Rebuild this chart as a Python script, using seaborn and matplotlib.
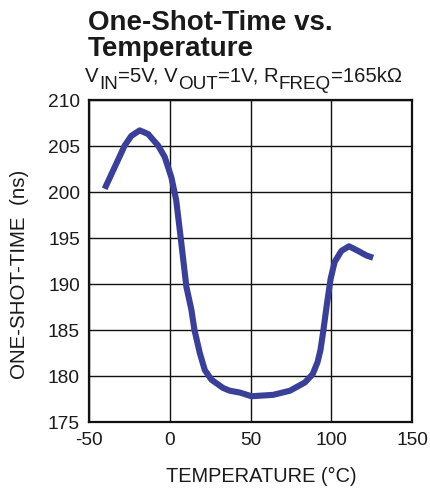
import matplotlib
matplotlib.use("Agg")
import matplotlib.pyplot as plt
import seaborn as sns
import pandas as pd

temperature = [-40.3, -34.1, -27.9, -23.8, -18.6, -13.4, -7.2, -3.1, 1.0, 4.0, 6.8,
               10.3, 13.4, 15.3, 18.6, 21.7, 25.8, 33.0, 37.2, 43.4, 50.6, 64.0,
               74.4, 83.7, 88.5, 91.5, 93.3, 95.0, 97.3, 99.6, 102.1, 106.3,
               111.0, 116.6, 121.8, 125.9]
one_shot_ns = [200.35, 202.7, 205.05, 206.1, 206.7, 206.3, 205.05, 203.8, 201.6, 199.1, 195.0,
               189.7, 187.2, 185.0, 182.5, 180.65, 179.6, 178.7, 178.4, 178.2, 177.8, 177.95,
               178.4, 179.3, 180.2, 181.5, 182.8, 184.8, 187.8, 190.55, 192.4, 193.6,
               194.1, 193.6, 193.1, 192.85]

x_ticks = [-50, 0, 50, 100, 150]
y_ticks = [175, 180, 185, 190, 195, 200, 205, 210]
x_tick_labels = ["-50", "0", "50", "100", "150"]
y_tick_labels = ["175", "180", "185", "190", "195", "200", "205", "210"]

df = pd.DataFrame({"T": temperature, "t": one_shot_ns})

sns.set_style("white")
plt.rcParams["font.family"] = ["Liberation Sans", "DejaVu Sans"]
plt.rcParams["axes.unicode_minus"] = False

TXT = "#1a1a1a"
fig = plt.figure(figsize=(4.30, 4.88), dpi=100)
ax = fig.add_axes([89/430, 1-422/488, (412-89)/430, (422-100)/488])

sns.lineplot(data=df, x="T", y="t", ax=ax, color="#3a3f98", linewidth=4.4,
             solid_capstyle="butt", solid_joinstyle="round", estimator=None, sort=False)

ax.set_xlim(-50, 150)
ax.set_ylim(175, 210)
ax.set_xticks(x_ticks)
ax.set_xticklabels(x_tick_labels)
ax.set_yticks(y_ticks)
ax.set_yticklabels(y_tick_labels)
ax.grid(True, color="#111111", linewidth=1.0)
ax.set_axisbelow(True)
for s in ax.spines.values():
    s.set_visible(True)
    s.set_color("#111111")
    s.set_linewidth(1.6)
ax.tick_params(axis="both", length=0, labelsize=13.8, colors=TXT)
ax.tick_params(axis="x", pad=7)
ax.tick_params(axis="y", pad=6.5)
ax.set_xlabel("")
ax.set_ylabel("")

fig.text(88/430, 1-30/488, "One-Shot-Time vs.", fontsize=20, fontweight="bold",
         color=TXT, va="baseline", ha="left")
fig.text(88/430, 1-56/488, "Temperature", fontsize=20, fontweight="bold",
         color=TXT, va="baseline", ha="left")

# subtitle with near full-size subscripts, built piece by piece
pieces = [("V", False), ("IN", True), ("=5V, V", False), ("OUT", True),
          ("=1V, R", False), ("FREQ", True), ("=165kΩ", False)]
renderer = fig.canvas.get_renderer()
x_px = 85.0
base_y = 488 - 82.0
for txt, sub in pieces:
    y_px = base_y - (7.0 if sub else 0)
    t = fig.text(x_px / 430, y_px / 488, txt, fontsize=13.6 if sub else 14.6,
                 color=TXT, va="baseline", ha="left")
    bb = t.get_window_extent(renderer=renderer)
    x_px = bb.x1 + 0.3

fig.text(261/430, 1-481.7/488, "TEMPERATURE (°C)", fontsize=14.4, color=TXT,
         va="baseline", ha="center")
fig.text(20/430, 1-274.5/488, "ONE-SHOT-TIME  (ns)", fontsize=14.8, color=TXT,
         va="center", ha="center", rotation=90)

fig.savefig("out.png", dpi=100)
